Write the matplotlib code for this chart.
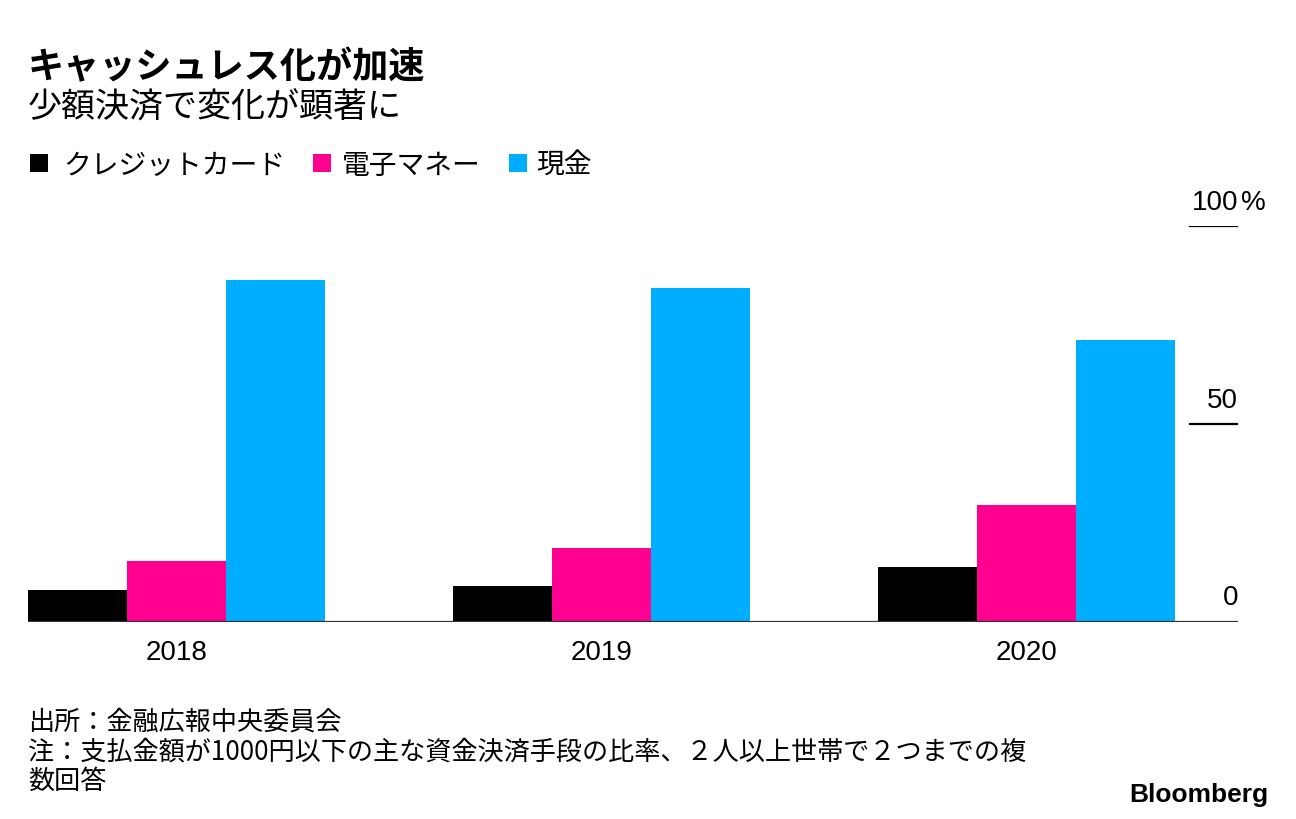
import matplotlib
matplotlib.use("Agg")
import matplotlib.pyplot as plt
from matplotlib.patches import Rectangle
from matplotlib.transforms import blended_transform_factory

# ---- data ----
years = ["2018", "2019", "2020"]
series_names = ["クレジットカード", "電子マネー", "現金"]
credit = [7.9, 8.9, 13.9]
emoney = [15.4, 18.5, 29.5]
cash = [86.3, 84.2, 71.1]
colors = ["#000000", "#FF0090", "#00AEFF"]
yticks = [0, 50, 100]
ytick_labels = ["0", "50", "100"]

title = "キャッシュレス化が加速"
subtitle = "少額決済で変化が顕著に"
footer = ["出所：金融広報中央委員会",
          "注：支払金額が1000円以下の主な資金決済手段の比率、２人以上世帯で２つまでの複",
          "数回答"]

JP = ["Noto Sans CJK JP", "DejaVu Sans"]
NUM = ["Liberation Sans", "DejaVu Sans"]
plt.rcParams["font.family"] = JP

W, H = 1296, 820
fig = plt.figure(figsize=(W / 100, H / 100), dpi=100)
fig.patch.set_facecolor("white")

def fx(x):
    return x / W

def fy(y):
    return 1 - y / H

ax_left, ax_right, ax_bottom, ax_top = 28, 1238, 622.5, 227
ax = fig.add_axes([fx(ax_left), fy(ax_bottom), (ax_right - ax_left) / W, (ax_bottom - ax_top) / H])
ax.set_facecolor("none")

w = 0.233
xs = list(range(len(years)))
for k, vals in enumerate([credit, emoney, cash]):
    ax.bar([x + (k - 1) * w for x in xs], vals, width=w, color=colors[k], linewidth=0, zorder=2)

ax.set_xlim(-0.349, 2.498)
ax.set_ylim(0, 100)
for s in ax.spines.values():
    s.set_visible(False)
ax.set_xticks([])
ax.set_yticks([])

# baseline
ax.axhline(0, color="#333333", linewidth=1.6, zorder=3)
# short tick lines
xmin_tick = (1190 - ax_left) / (ax_right - ax_left)
for v in yticks[1:]:
    ax.axhline(v, xmin=xmin_tick, xmax=1.0, color="#000000", linewidth=1.6, zorder=3)

trans = blended_transform_factory(ax.transAxes, ax.transData)
for v, lab in zip(yticks, ytick_labels):
    ax.annotate(lab, xy=(1.0, v), xycoords=trans, xytext=(0, 17), textcoords="offset pixels",
                ha="right", va="baseline", fontsize=20, color="#000000", family=NUM)
ax.annotate("%", xy=(1.0, 100), xycoords=trans, xytext=(3, 17), textcoords="offset pixels",
            ha="left", va="baseline", fontsize=20, color="#000000", family=NUM)

for x, lab in zip(xs, years):
    ax.annotate(lab, xy=(x, 0), xytext=(0, -17.5), textcoords="offset pixels",
                ha="center", va="top", fontsize=20, color="#000000", family=NUM)

# titles
fig.text(fx(28), fy(78), title, fontsize=26, fontweight="bold", ha="left", va="baseline")
fig.text(fx(28), fy(118), subtitle, fontsize=24.5, ha="left", va="baseline")

# legend
legend_items = [(30, 63), (313, 342), (509, 536)]
for (sx, tx), name, c in zip(legend_items, series_names, colors):
    fig.add_artist(Rectangle((fx(sx), fy(173)), 18 / W, 18 / H, transform=fig.transFigure,
                             facecolor=c, edgecolor="none"))
    fig.text(fx(tx), fy(174), name, fontsize=20, ha="left", va="baseline")

# footer
for i, line in enumerate(footer):
    fig.text(fx(28), fy(730 + i * 29.5), line, fontsize=18.8, ha="left", va="baseline")

fig.text(fx(1268), fy(802), "Bloomberg", fontsize=19, fontweight="bold",
         family=["Liberation Sans", "DejaVu Sans"], ha="right", va="baseline")

fig.savefig("out.png", dpi=100, facecolor="white")
